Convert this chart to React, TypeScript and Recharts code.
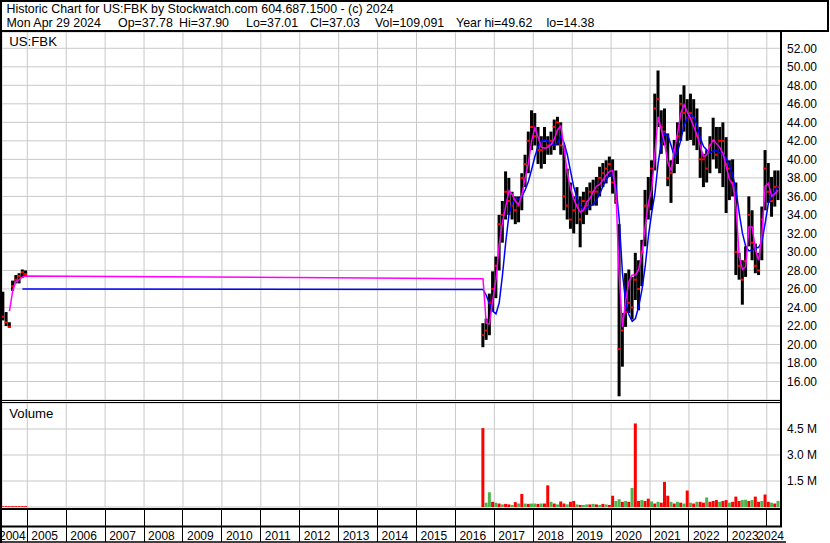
import React from 'react';
import { ComposedChart, Bar, Line, XAxis, YAxis, CartesianGrid, Cell } from 'recharts';

// monthly bars (2004 stub, then the 2016 listing onwards)
const months = [
  '2004-05', '2004-06', '2004-07', '2004-08', '2004-09', '2004-10', '2004-11', '2004-12',
  '2016-09', '2016-10', '2016-11', '2016-12',
  '2017-01', '2017-02', '2017-03', '2017-04', '2017-05', '2017-06', '2017-07', '2017-08', '2017-09', '2017-10', '2017-11', '2017-12',
  '2018-01', '2018-02', '2018-03', '2018-04', '2018-05', '2018-06', '2018-07', '2018-08', '2018-09', '2018-10', '2018-11', '2018-12',
  '2019-01', '2019-02', '2019-03', '2019-04', '2019-05', '2019-06', '2019-07', '2019-08', '2019-09', '2019-10', '2019-11', '2019-12',
  '2020-01', '2020-02', '2020-03', '2020-04', '2020-05', '2020-06', '2020-07', '2020-08', '2020-09', '2020-10', '2020-11', '2020-12',
  '2021-01', '2021-02', '2021-03', '2021-04', '2021-05', '2021-06', '2021-07', '2021-08', '2021-09', '2021-10', '2021-11', '2021-12',
  '2022-01', '2022-02', '2022-03', '2022-04', '2022-05', '2022-06', '2022-07', '2022-08', '2022-09', '2022-10', '2022-11', '2022-12',
  '2023-01', '2023-02', '2023-03', '2023-04', '2023-05', '2023-06', '2023-07', '2023-08', '2023-09', '2023-10', '2023-11', '2023-12',
  '2024-01', '2024-02', '2024-03', '2024-04',
];

const highs = [
  25.7, 23.5, 22.4, 26.9, 27.5, 27.7, 28.1, 28.0,
  22.3, 22.8, 25.5, 27.9,
  29.5, 34.0, 35.5, 38.7, 38.0, 36.5, 36.0, 36.0, 38.5, 40.5, 43.0, 45.3,
  45.0, 43.5, 42.5, 43.5, 42.5, 43.0, 44.3, 44.6, 44.0, 41.5, 39.0, 37.5,
  36.0, 37.0, 36.0, 36.5, 37.0, 37.5, 37.8, 38.1, 39.2, 39.6, 39.9, 40.3,
  40.0, 38.8, 33.0, 23.4, 27.7, 28.1, 27.3, 29.9, 29.1, 31.3, 36.7, 38.1,
  39.9, 47.1, 49.6, 45.3, 45.5, 42.8, 39.9, 42.1, 44.0, 47.0, 48.0, 46.5,
  47.1, 46.5, 45.5, 43.5, 40.6, 41.0, 42.5, 44.5, 43.5, 43.5, 44.0, 42.4,
  39.9, 40.0, 37.5, 29.9, 29.1, 30.6, 36.0, 34.5, 30.9, 29.9, 34.9, 41.0,
  39.6, 38.1, 38.8, 38.8,
];

const lows = [
  22.6, 22.0, 21.8, 25.8, 26.6, 26.6, 27.2, 27.3,
  19.7, 20.5, 21.0, 23.6,
  25.0, 28.0, 31.0, 33.5, 34.0, 33.5, 33.0, 33.2, 34.5, 37.0, 38.5, 41.0,
  41.5, 39.5, 39.0, 39.5, 40.5, 40.5, 41.0, 41.5, 40.5, 34.5, 33.5, 32.5,
  32.0, 33.0, 30.5, 33.0, 34.0, 34.5, 35.0, 35.0, 36.0, 37.0, 37.4, 38.1,
  36.3, 35.2, 14.4, 17.6, 21.9, 23.4, 22.7, 24.8, 23.7, 26.3, 30.6, 33.5,
  34.5, 38.8, 43.5, 40.6, 41.5, 37.1, 35.3, 38.5, 39.5, 42.0, 43.0, 42.0,
  42.1, 41.5, 41.0, 38.0, 37.0, 37.5, 38.5, 40.0, 39.0, 38.5, 37.0, 34.2,
  35.6, 36.0, 27.5, 27.0, 24.3, 27.3, 30.6, 29.1, 27.7, 27.5, 29.1, 34.5,
  35.3, 33.8, 34.9, 35.6,
];

const closes = [
  23.0, 22.4, 21.9, 26.3, 27.0, 27.4, 27.8, 27.6,
  21.0, 21.5, 24.5, 26.0,
  28.5, 33.0, 34.0, 36.5, 35.5, 35.0, 34.5, 35.0, 38.0, 39.5, 42.0, 43.5,
  42.5, 41.0, 41.0, 42.0, 41.5, 42.0, 43.5, 44.0, 41.5, 36.0, 35.0, 33.5,
  34.5, 35.0, 33.5, 35.5, 35.0, 36.5, 36.5, 36.5, 38.0, 38.5, 39.0, 39.5,
  37.5, 35.5, 19.5, 21.5, 23.5, 24.5, 24.0, 27.0, 26.0, 30.0, 35.0, 35.0,
  39.0, 45.5, 46.5, 43.5, 43.0, 38.0, 38.5, 41.0, 42.5, 46.0, 45.0, 44.5,
  45.0, 44.5, 42.5, 40.0, 40.0, 39.0, 41.5, 42.0, 40.5, 42.0, 42.0, 39.5,
  39.0, 37.5, 30.0, 28.5, 27.0, 29.0, 34.0, 31.0, 28.5, 28.0, 33.5, 39.0,
  36.5, 35.5, 37.0, 37.03,
];

// magenta (short) and blue (long) averages as drawn
const shortAvg = [
  null, null, 23.6, 25.8, 26.8, 27.0, 27.3, 27.4,
  27.1, 22.3, 22.2, 24.8,
  27.0, 30.8, 33.2, 34.9, 36.6, 36.2, 35.5, 35.1, 36.2, 38.0, 39.6, 42.0,
  43.4, 42.4, 41.3, 41.2, 41.3, 41.6, 42.2, 43.2, 43.6, 41.2, 38.5, 36.9,
  35.7, 34.9, 34.3, 34.5, 35.4, 35.8, 36.5, 37.1, 37.3, 37.8, 38.3, 38.7,
  38.8, 36.3, 27.3, 21.9, 24.8, 26.8, 27.5, 27.5, 28.1, 29.9, 32.7, 35.3,
  36.7, 40.6, 44.6, 43.2, 41.7, 39.6, 38.8, 41.0, 42.8, 45.0, 45.9, 45.1,
  44.4, 43.5, 42.6, 41.4, 40.3, 40.5, 41.5, 42.1, 41.7, 41.3, 40.6, 39.2,
  37.8, 37.3, 34.9, 29.5, 28.1, 28.4, 32.7, 32.7, 30.2, 29.1, 32.0, 37.1,
  37.4, 36.0, 36.3, 36.7,
];

const longAvg = [
  null, null, null, null, null, null, 26.0, 26.0,
  25.95, 25.3, 24.4, 23.6,
  23.3, 24.5, 27.5, 31.0, 34.0, 35.3, 35.7, 35.7, 36.0, 36.7, 37.6, 38.9,
  40.3, 41.4, 42.0, 42.1, 42.0, 41.6, 41.5, 41.8, 42.5, 41.8, 40.5, 38.7,
  37.0, 35.8, 35.0, 34.6, 34.7, 35.0, 35.1, 35.6, 36.3, 37.1, 37.8, 38.3,
  38.3, 37.1, 33.5, 27.7, 24.5, 23.2, 22.5, 22.8, 24.1, 25.9, 28.4, 31.7,
  34.2, 36.3, 39.6, 41.9, 42.8, 42.6, 41.5, 40.3, 40.8, 42.1, 43.7, 44.5,
  44.8, 44.6, 43.7, 42.3, 41.4, 41.0, 40.7, 40.9, 41.0, 40.7, 40.6, 40.1,
  39.3, 38.3, 36.7, 34.2, 32.0, 30.6, 30.1, 30.2, 30.4, 30.5, 31.1, 33.1,
  35.3, 36.0, 36.6, 37.1,
];

// volume in millions of shares, r = down day colour, g = up day colour
const volumes = [
  0.05, 0.05, 0.05, 0.05, 0.05, 0.05, 0.05, 0.05,
  4.55, 0.25, 0.85, 0.3,
  0.25, 0.2, 0.15, 0.18, 0.15, 0.12, 0.28, 0.2, 0.75, 0.2, 0.18, 0.2,
  0.2, 0.18, 0.2, 0.2, 1.25, 0.3, 0.2, 0.15, 0.32, 0.2, 0.15, 0.3,
  0.35, 0.15, 0.12, 0.12, 0.15, 0.15, 0.18, 0.15, 0.12, 0.18, 0.15, 0.12,
  0.65, 0.35, 0.45, 0.3, 0.35, 0.3, 1.1, 4.82, 0.35, 0.4, 0.35, 0.48,
  0.32, 0.2, 0.3, 0.25, 1.45, 0.65, 0.3, 0.2, 0.3, 0.25, 0.2, 0.95,
  0.25, 0.2, 0.3, 0.3, 0.25, 0.55, 0.3, 0.35, 0.4, 0.3, 0.35, 0.4,
  0.25, 0.3, 0.6, 0.35, 0.4, 0.42, 0.35, 0.4, 0.6, 0.3, 0.35, 0.72,
  0.3, 0.25, 0.2, 0.35,
];

const volColors = [
  'r', 'r', 'r', 'r', 'r', 'r', 'r', 'r',
  'r', 'g', 'g', 'r',
  'g', 'r', 'g', 'r', 'r', 'g', 'r', 'g', 'r', 'g', 'r', 'g',
  'g', 'r', 'g', 'r', 'r', 'g', 'r', 'g', 'r', 'r', 'g', 'r',
  'r', 'g', 'r', 'g', 'g', 'r', 'g', 'r', 'g', 'r', 'g', 'r',
  'r', 'g', 'g', 'r', 'g', 'r', 'g', 'r', 'r', 'g', 'r', 'r',
  'g', 'r', 'g', 'r', 'r', 'r', 'g', 'r', 'g', 'r', 'g', 'r',
  'g', 'r', 'g', 'r', 'r', 'g', 'r', 'r', 'r', 'g', 'r', 'r',
  'g', 'r', 'r', 'r', 'g', 'g', 'r', 'g', 'r', 'r', 'g', 'r',
  'r', 'g', 'r', 'g',
];

const YEAR_TICKS = [2005, 2006, 2007, 2008, 2009, 2010, 2011, 2012, 2013, 2014, 2015, 2016, 2017, 2018, 2019, 2020, 2021, 2022, 2023, 2024];
const PRICE_TICKS = [16, 18, 20, 22, 24, 26, 28, 30, 32, 34, 36, 38, 40, 42, 44, 46, 48, 50, 52];
const VOL_TICKS = [1.5, 3, 4.5];

const FONT = '"Liberation Sans", Arial, sans-serif';
const X_DOMAIN: [number, number] = [2004.35, 2024.365];
const GRID = '#c8c8c8';
const RED = '#ff0000';
const GREEN = '#4cb44c';

const toYear = (m: string) => {
  const [y, mo] = m.split('-').map(Number);
  return y + (mo - 0.5) / 12;
};

const rows = months.map((m, i) => ({
  t: toYear(m),
  hi: highs[i],
  lo: lows[i],
  cl: closes[i],
  ma1: shortAvg[i],
  ma2: longAvg[i],
  vol: volumes[i],
  up: volColors[i] === 'g',
}));

const hiLo = (d: any) => (d.hi == null ? null : [d.lo, d.hi]);

const OhlcShape = (props: any) => {
  const { x, y, width, height, payload } = props;
  if (payload == null || payload.hi == null || !isFinite(y)) return null;
  const h = Math.max(height, 1);
  const yc = y + ((payload.hi - payload.cl) / (payload.hi - payload.lo)) * height;
  return (
    <g>
      <rect x={x} y={y} width={width} height={h} fill="#000" />
      <rect x={x} y={yc - 1} width={width} height={2} fill={RED} />
    </g>
  );
};

const PriceTick = (p: any) => (
  <text x={p.x} y={p.y} dy="0.36em" textAnchor="start" fontSize={12} fontFamily={FONT} fill="#000">
    {Number(p.payload.value).toFixed(2)}
  </text>
);

const VolTick = (p: any) => (
  <text x={p.x} y={p.y} dy="0.36em" textAnchor="start" fontSize={12} fontFamily={FONT} fill="#000">
    {Number(p.payload.value).toFixed(1) + ' M'}
  </text>
);

const YearTick = (p: any) => {
  const v = p.payload.value;
  const top = p.y;
  const lx = Math.floor(p.x) + 0.5;
  return (
    <g>
      <line x1={lx} x2={lx} y1={top + 3} y2={v === 2024 ? top + 20 : top + 35} stroke="#000" strokeWidth={1} />
      <text x={v === 2024 ? p.x - 9.5 : p.x + 4} y={top + 32.5} fontSize={12} fontFamily={FONT} fill="#000">
        {v}
      </text>
    </g>
  );
};

export default function App() {
  return (
    <div style={{ position: 'absolute', left: 0, top: 0, width: 830, height: 543, background: '#fff', overflow: 'hidden' }}>
      <div style={{ position: 'absolute', left: 0, top: 32 }}>
        <ComposedChart width={830} height={368} data={rows} margin={{ top: 0, right: 0, bottom: 0, left: 2 }}>
          <CartesianGrid stroke={GRID} />
          <XAxis dataKey="t" type="number" domain={X_DOMAIN} ticks={YEAR_TICKS} allowDataOverflow hide />
          <YAxis
            orientation="right"
            width={49}
            domain={[14, 53.76]}
            ticks={PRICE_TICKS}
            interval={0}
            allowDataOverflow
            axisLine={false}
            tickLine={false}
            tickSize={4}
            tickMargin={2}
            tick={PriceTick}
          />
          <Bar dataKey={hiLo} barSize={3} shape={OhlcShape} isAnimationActive={false} />
          <Line dataKey="ma2" type="linear" stroke="#0000ff" strokeWidth={1.5} dot={false} isAnimationActive={false} />
          <Line dataKey="ma1" type="linear" stroke="#ff00ff" strokeWidth={1.5} dot={false} isAnimationActive={false} />
        </ComposedChart>
      </div>

      <div style={{ position: 'absolute', left: 0, top: 403 }}>
        <ComposedChart width={830} height={140} data={rows} margin={{ top: 0, right: 0, bottom: 0, left: 2 }}>
          <CartesianGrid stroke={GRID} />
          <XAxis
            dataKey="t"
            type="number"
            domain={X_DOMAIN}
            ticks={YEAR_TICKS}
            interval={0}
            allowDataOverflow
            height={36}
            axisLine={false}
            tickLine={false}
            tickSize={0}
            tickMargin={0}
            tick={YearTick}
          />
          <YAxis
            orientation="right"
            width={49}
            domain={[0, 6]}
            ticks={VOL_TICKS}
            interval={0}
            allowDataOverflow
            axisLine={false}
            tickLine={false}
            tickSize={4}
            tickMargin={2}
            tick={VolTick}
          />
          <Bar dataKey="vol" barSize={3} isAnimationActive={false}>
            {rows.map((r, i) => (
              <Cell key={`v-${i}`} fill={r.up ? GREEN : RED} />
            ))}
          </Bar>
        </ComposedChart>
      </div>

      <svg width={830} height={543} style={{ position: 'absolute', left: 0, top: 0, pointerEvents: 'none' }}>
        <rect x={1} y={1} width={827} height={30} fill="none" stroke="#000" strokeWidth={2} />
        <g fontFamily={FONT} fontSize={12.4} fill="#000">
          <text x={6.5} y={12.5}>Historic Chart for US:FBK by Stockwatch.com 604.687.1500 - (c) 2024</text>
          <text x={6.5} y={26.5}>Mon Apr 29 2024</text>
          <text x={118} y={26.5}>Op=37.78</text>
          <text x={179} y={26.5}>Hi=37.90</text>
          <text x={246} y={26.5}>Lo=37.01</text>
          <text x={310} y={26.5}>Cl=37.03</text>
          <text x={375} y={26.5}>Vol=109,091</text>
          <text x={456} y={26.5}>Year hi=49.62</text>
          <text x={546.5} y={26.5}>lo=14.38</text>
        </g>
        <g fontFamily={FONT} fontSize={13.2} fill="#000">
          <text x={9.3} y={45.7}>US:FBK</text>
          <text x={9.3} y={418}>Volume</text>
        </g>
        <text x={-1} y={539.5} fontFamily={FONT} fontSize={12} fill="#000">2004</text>
        <g stroke="#000">
          <line x1={1} y1={31} x2={1} y2={543} strokeWidth={2} />
          <line x1={781} y1={31} x2={781} y2={527} strokeWidth={2} />
          <line x1={0} y1={400.5} x2={782} y2={400.5} strokeWidth={1} />
          <line x1={0} y1={402.5} x2={782} y2={402.5} strokeWidth={1} />
          <line x1={0} y1={509} x2={782} y2={509} strokeWidth={2} />
          <line x1={0} y1={526.5} x2={782} y2={526.5} strokeWidth={2} />
          <line x1={0} y1={542} x2={786} y2={542} strokeWidth={1.5} />
        </g>
      </svg>
    </div>
  );
}
